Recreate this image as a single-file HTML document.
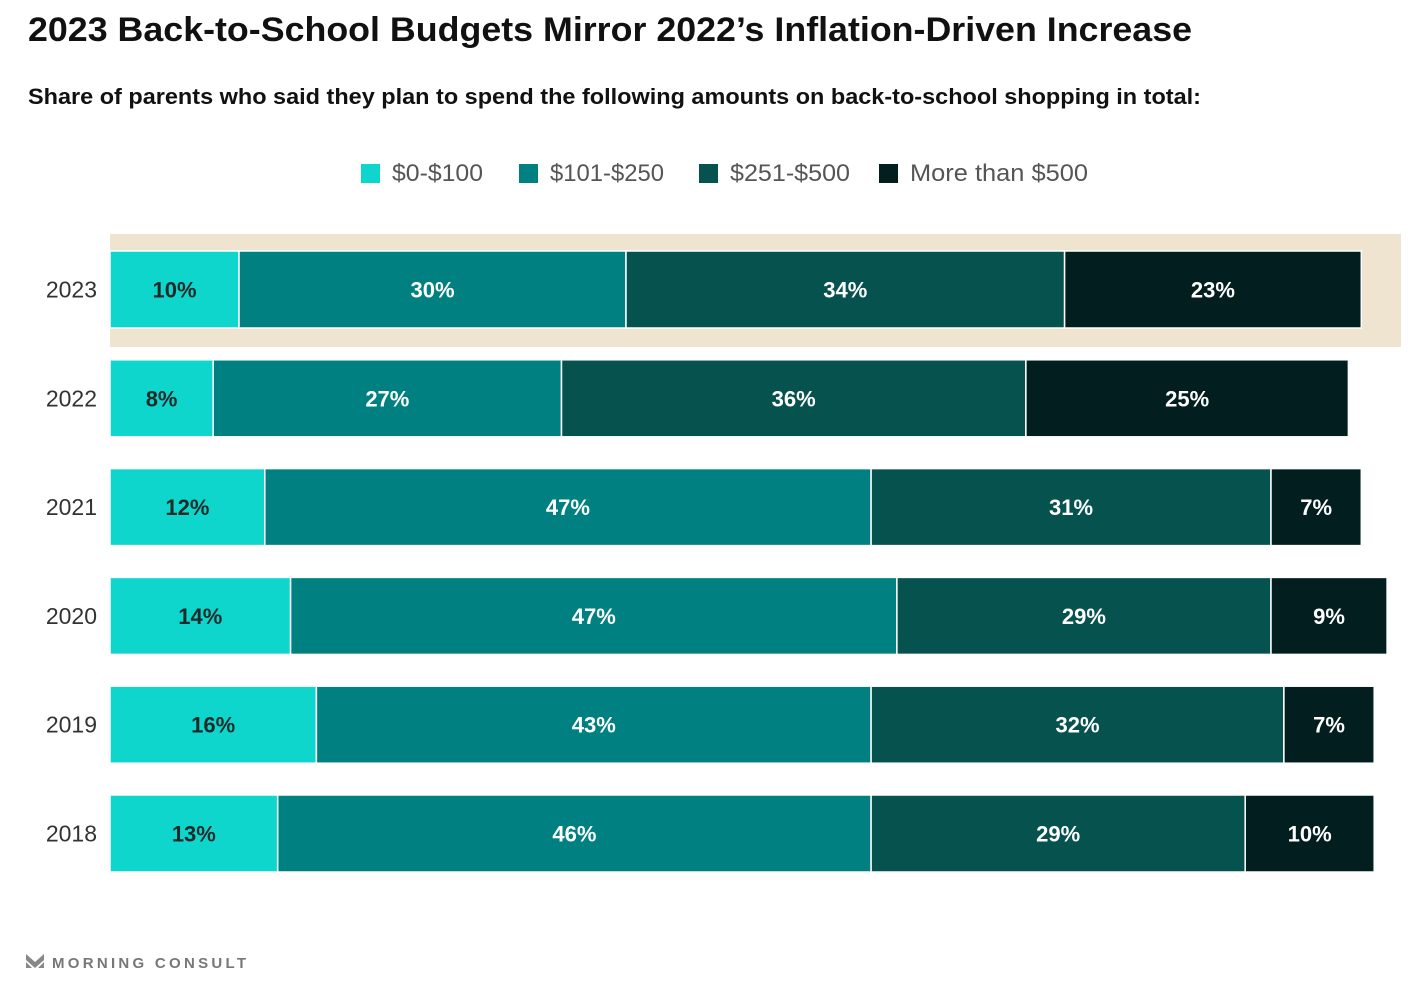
<!DOCTYPE html>
<html><head><meta charset="utf-8"><style>
body{margin:0;width:1408px;height:985px;background:#fff;overflow:hidden;font-family:"Liberation Sans",sans-serif}
</style></head><body>
<svg width="1408" height="985" id="c">
<text x="28" y="41" font-size="34" font-weight="bold" fill="#111" textLength="1164" lengthAdjust="spacingAndGlyphs">2023 Back-to-School Budgets Mirror 2022’s Inflation-Driven Increase</text>
<text x="28" y="104" font-size="22" font-weight="bold" fill="#111" textLength="1173" lengthAdjust="spacingAndGlyphs">Share of parents who said they plan to spend the following amounts on back-to-school shopping in total:</text>
<rect x="110" y="234" width="1291" height="113" fill="#efe4cf"/>
<g id="legend"></g>
<g id="bars"></g>
<g>
<path d="M26 954 L35 962 L44 954 L44 960 L35 968 L26 960 Z" fill="#888"/>
<path d="M26 962 L32 968 L26 968 Z M44 962 L38 968 L44 968 Z" fill="#888"/>
<text x="52" y="968" font-size="15" font-weight="bold" fill="#777" textLength="194" lengthAdjust="spacing">MORNING CONSULT</text>
</g>
</svg>
<script>
const years=["2023","2022","2021","2020","2019","2018"];
const s0=[10,8,12,14,16,13];
const s1=[30,27,47,47,43,46];
const s2=[34,36,31,29,32,29];
const s3=[23,25,7,9,7,10];
const seriesNames=["$0-$100","$101-$250","$251-$500","More than $500"];
const colors=["#0fd6cc","#008080","#05524e","#021e1e"];
const series=[s0,s1,s2,s3];
const NS="http://www.w3.org/2000/svg";
const x0=110,pxPer=12.9,top0=251,pitch=108.8,bh=77;
const xs=v=>x0+v*pxPer;
function mk(t,a){const e=document.createElementNS(NS,t);for(const k in a)e.setAttribute(k,a[k]);return e;}
const lg=document.getElementById('legend');
const lx=[361,519,699,879];
const lw=[91,114,120,178];
seriesNames.forEach((n,i)=>{
 const r=mk('rect',{x:lx[i],y:164,width:19,height:19,fill:colors[i]});
 
 
 lg.appendChild(r);
 const t=mk('text',{x:lx[i]+31,y:181,'font-size':24,fill:'#555',textLength:lw[i],lengthAdjust:'spacingAndGlyphs'});t.textContent=n;
 
 
 lg.appendChild(t);
});
const g=document.getElementById('bars');
years.forEach((y,r)=>{
 const yt=top0+r*pitch;
 const yl=mk('text',{x:97,y:yt+bh/2+8,'font-size':23,fill:'#333','text-anchor':'end'});yl.textContent=y;
 
 
 g.appendChild(yl);
 let cum=0;
 series.forEach((s,i)=>{
  const v=s[r];
  const rc=mk('rect',{x:xs(cum),y:yt,width:v*pxPer,height:bh,fill:colors[i],stroke:'#fff','stroke-width':1.5});
  
  
  g.appendChild(rc);
  const t=mk('text',{x:xs(cum+v/2),y:yt+bh/2+8,'font-size':22,'font-weight':'bold','text-anchor':'middle',fill:i==0?'#1e2a2a':'#fff'});
  t.textContent=v+'%';
  
  
  g.appendChild(t);
  cum+=v;
 });
});
</script>
</body></html>
